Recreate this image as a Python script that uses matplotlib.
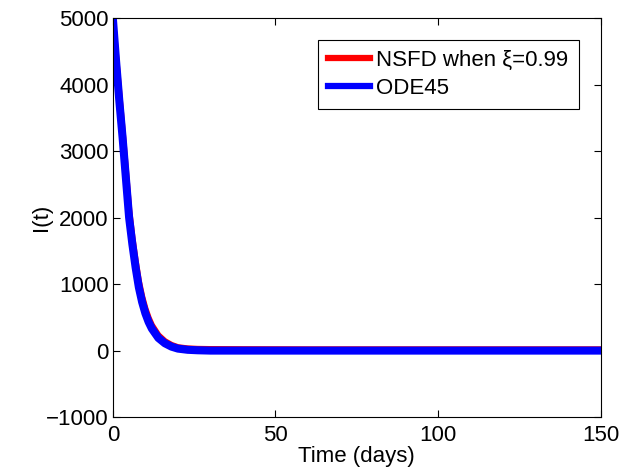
import numpy as np
import matplotlib
matplotlib.use('Agg')
from matplotlib import pyplot as plt

plt.rcParams['font.family'] = ['Liberation Sans', 'DejaVu Sans']

# values
t = [0, 1, 2, 3, 4, 5, 6, 7, 8, 9, 10, 11, 12, 14, 16, 18, 20, 23, 26, 30, 40, 60, 150]
I_ode45 = [5000, 4350, 3750, 3200, 2600, 2000, 1600, 1250, 950, 730, 560, 430, 330,
           190, 110, 60, 30, 12, 5, 0, 0, 0, 0]
I_nsfd = [5000, 4420, 3850, 3300, 2720, 2120, 1700, 1350, 1040, 810, 630, 490, 380,
          230, 140, 85, 50, 32, 25, 22, 20, 18, 18]

fig = plt.figure(figsize=(6.2, 4.74), dpi=100)
ax = fig.add_axes([0.182, 0.120, 0.787, 0.842])

ax.plot(t, I_nsfd, color='red', lw=4.5, label=u'NSFD when \u03be=0.99')
ax.plot(t, I_ode45, color='blue', lw=5.8, label='ODE45')

ax.set_xlim(0, 150)
ax.set_ylim(-1000, 5000)
ax.set_xticks([0, 50, 100, 150])
ax.set_yticks([-1000, 0, 1000, 2000, 3000, 4000, 5000])
ax.set_yticklabels(['\u22121000', '0', '1000', '2000', '3000', '4000', '5000'])
ax.tick_params(direction='in', top=True, right=True, labelsize=16, length=5)
ax.tick_params(axis='x', pad=6)
ax.tick_params(axis='y', pad=3)
ax.set_xlabel('Time (days)', fontsize=16, labelpad=0)
ax.set_ylabel('I(t)', fontsize=16, labelpad=-4)

leg = ax.legend(loc='upper right', fontsize=16, fancybox=False, framealpha=1,
                edgecolor='black', handlelength=1.9, borderaxespad=1.0,
                handletextpad=0.3, labelspacing=0.3, borderpad=0.45)
leg.get_frame().set_linewidth(0.8)
for line in leg.get_lines():
    line.set_linewidth(4.5)

fig.savefig('out.png', dpi=100)
